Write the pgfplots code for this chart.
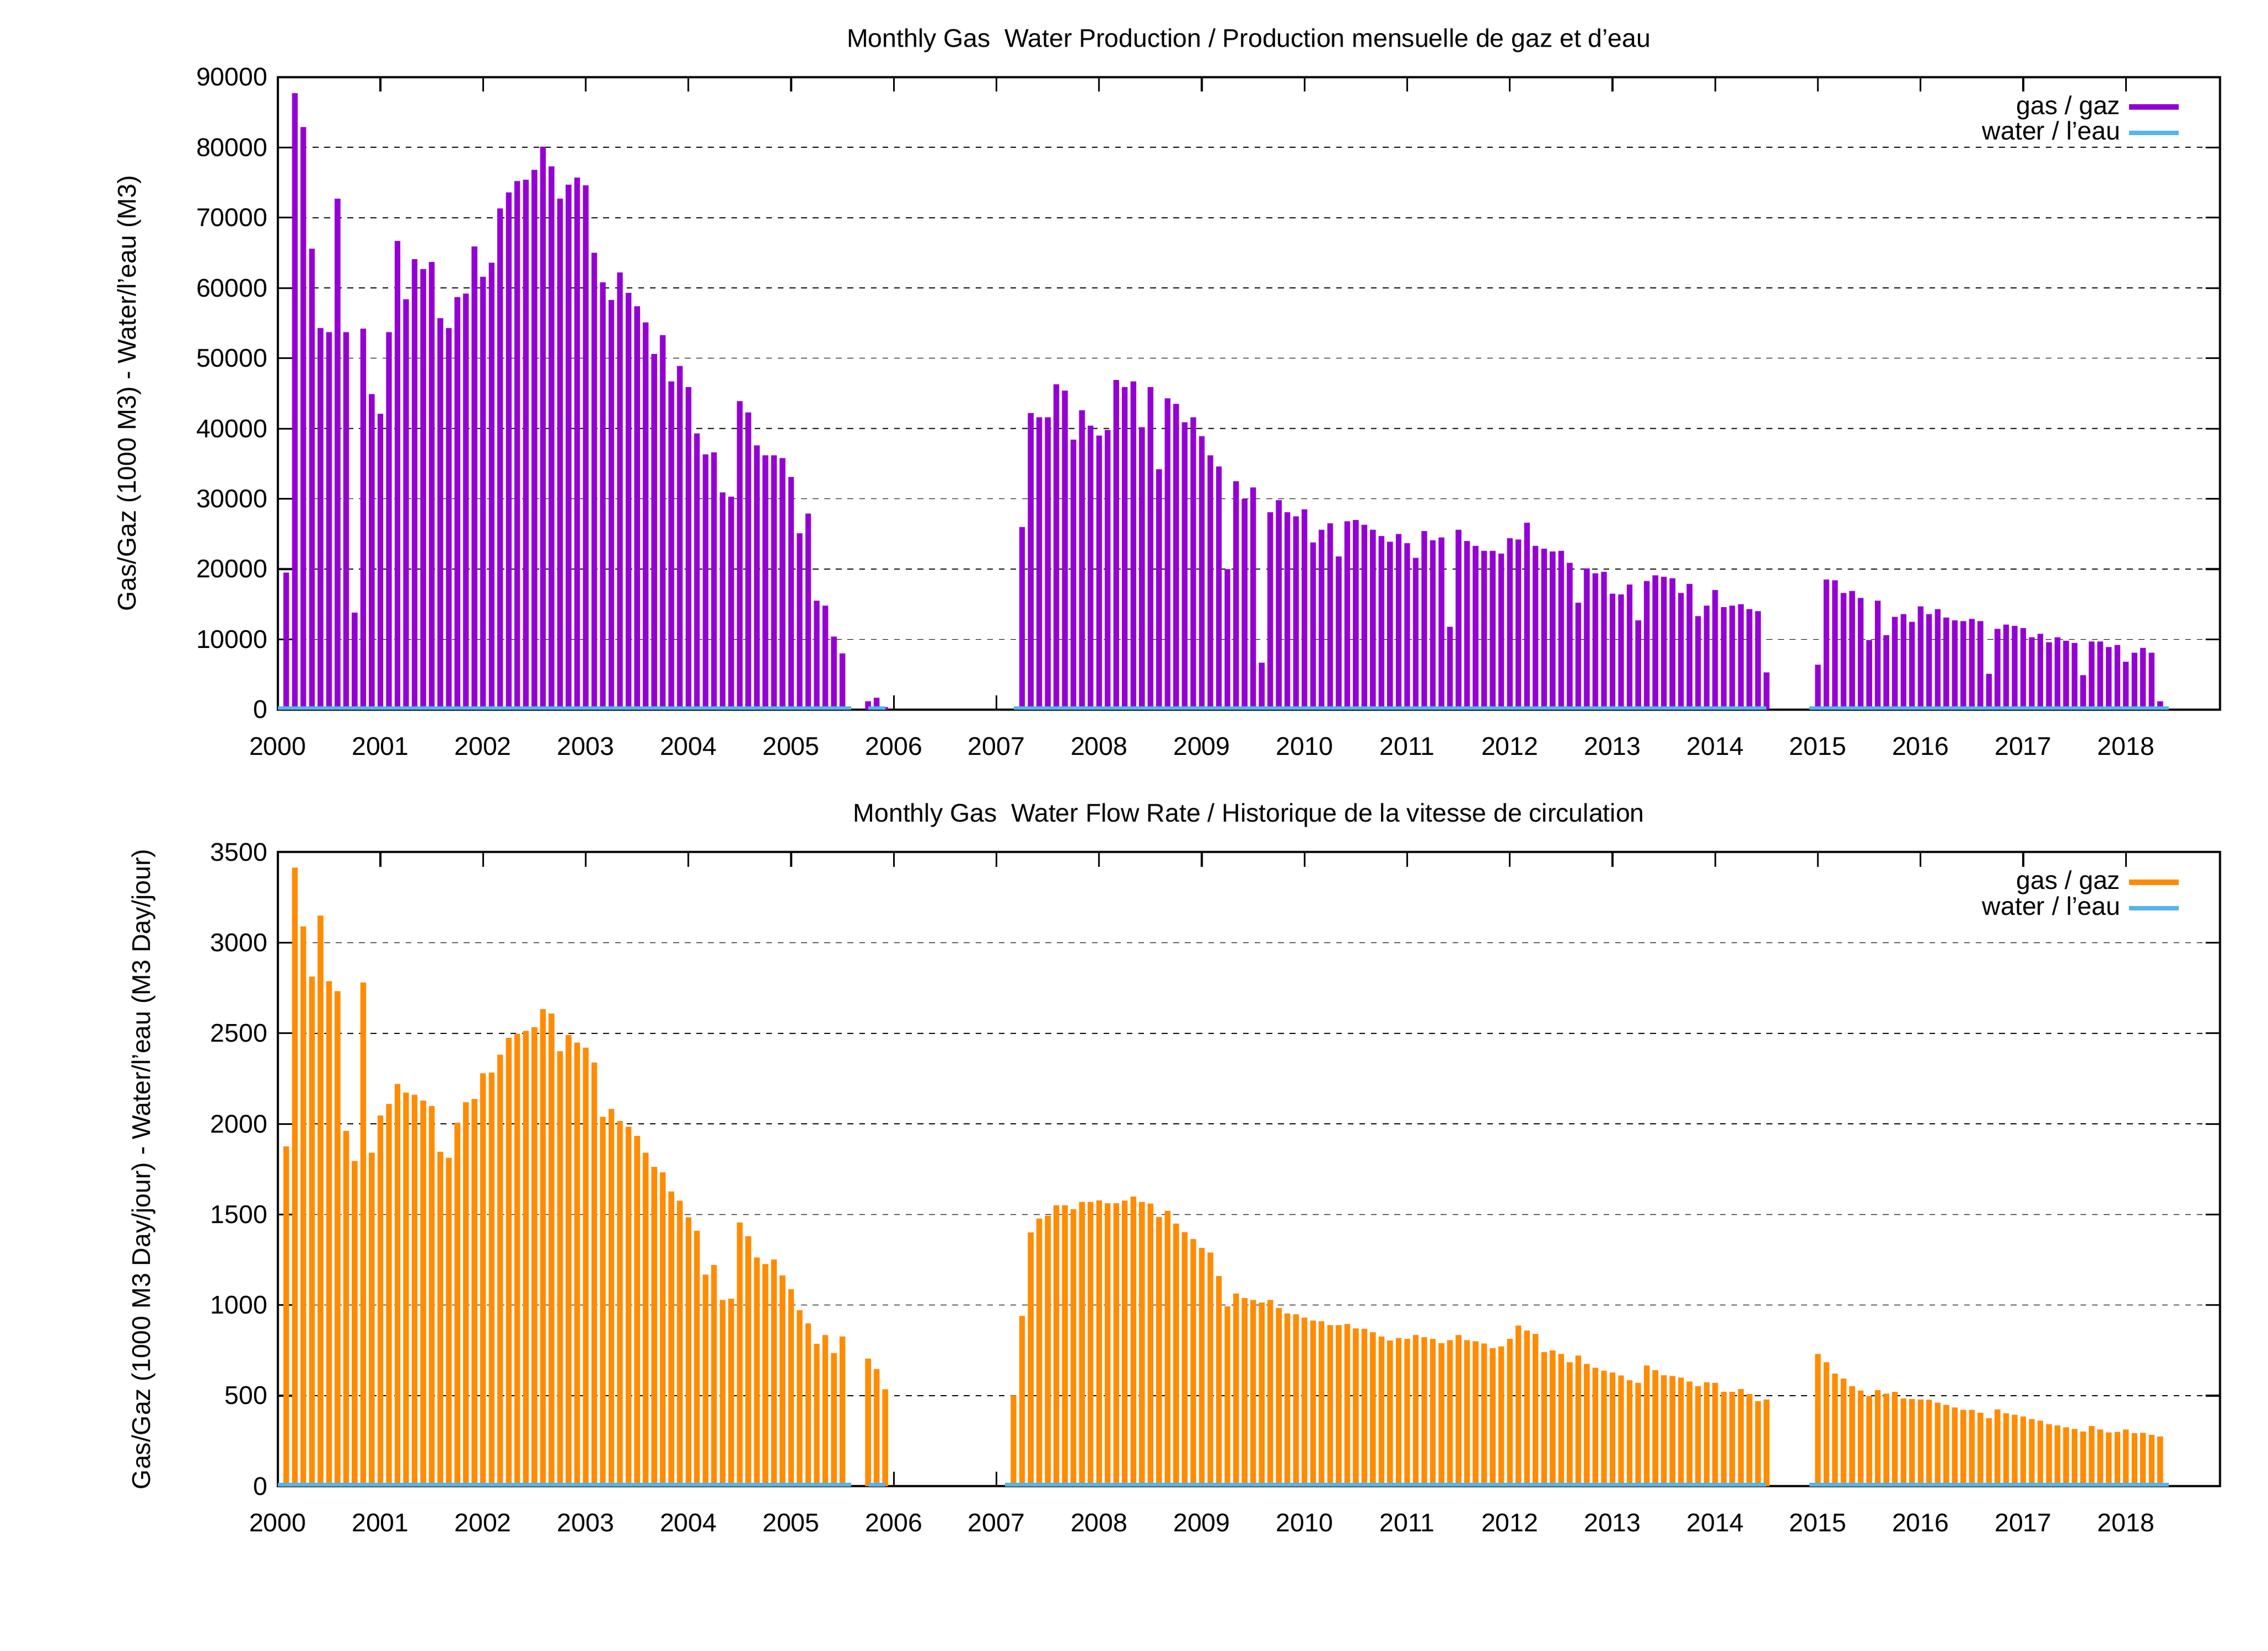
\documentclass[border=0pt]{standalone}
\usepackage{pgfplots}
\pgfplotsset{compat=1.18}
\usepackage{pgfplotstable}
\usepackage{fontspec}
\setmainfont{Liberation Sans}
\definecolor{gaspur}{RGB}{148,0,211}
\definecolor{gasor}{RGB}{255,140,0}
\definecolor{wat}{RGB}{86,180,233}
\pgfplotstableread{
i v
1 19500
2 87700
3 82900
4 65600
5 54300
6 53700
7 72700
8 53700
9 13800
10 54200
11 44900
12 42100
13 53700
14 66700
15 58400
16 64100
17 62700
18 63700
19 55700
20 54300
21 58700
22 59200
23 65900
24 61600
25 63600
26 71300
27 73600
28 75200
29 75400
30 76800
31 80100
32 77300
33 72700
34 74700
35 75700
36 74600
37 65000
38 60800
39 58300
40 62200
41 59300
42 57400
43 55100
44 50600
45 53300
46 46700
47 48900
48 45900
49 39300
50 36300
51 36600
52 30900
53 30300
54 43900
55 42300
56 37600
57 36200
58 36200
59 35800
60 33100
61 25100
62 27900
63 15500
64 14800
65 10400
66 8000
69 1200
70 1700
71 350
87 26000
88 42200
89 41600
90 41600
91 46300
92 45400
93 38400
94 42600
95 40400
96 39000
97 39800
98 46900
99 45900
100 46700
101 40200
102 45900
103 34200
104 44300
105 43500
106 40900
107 41600
108 38900
109 36200
110 34600
111 20000
112 32500
113 30000
114 31600
115 6700
116 28100
117 29800
118 28100
119 27500
120 28500
121 23800
122 25600
123 26500
124 21800
125 26800
126 27000
127 26300
128 25600
129 24700
130 23900
131 25000
132 23700
133 21600
134 25400
135 24100
136 24500
137 11800
138 25600
139 24000
140 23300
141 22600
142 22600
143 22200
144 24400
145 24200
146 26600
147 23300
148 22900
149 22500
150 22600
151 20900
152 15200
153 20100
154 19400
155 19600
156 16500
157 16400
158 17800
159 12700
160 18300
161 19100
162 18900
163 18700
164 16600
165 17900
166 13300
167 14800
168 17000
169 14600
170 14800
171 15000
172 14300
173 14000
174 5300
180 6400
181 18500
182 18400
183 16600
184 16900
185 15900
186 9900
187 15500
188 10600
189 13200
190 13600
191 12500
192 14700
193 13600
194 14300
195 13100
196 12700
197 12600
198 12900
199 12600
200 5100
201 11500
202 12100
203 11900
204 11600
205 10300
206 10800
207 9600
208 10300
209 9800
210 9500
211 4900
212 9700
213 9700
214 8900
215 9200
216 6800
217 8100
218 8800
219 8100
220 1200
}\gasprod
\pgfplotstableread{
i v
1 1876
2 3415
3 3090
4 2813
5 3150
6 2788
7 2733
8 1961
9 1795
10 2781
11 1841
12 2046
13 2110
14 2221
15 2173
16 2161
17 2129
18 2099
19 1846
20 1813
21 2007
22 2120
23 2138
24 2279
25 2283
26 2382
27 2475
28 2498
29 2514
30 2534
31 2633
32 2610
33 2401
34 2491
35 2449
36 2421
37 2339
38 2039
39 2083
40 2016
41 1984
42 1933
43 1841
44 1763
45 1733
46 1627
47 1576
48 1484
49 1410
50 1168
51 1221
52 1028
53 1035
54 1456
55 1380
56 1263
57 1226
58 1251
59 1164
60 1088
61 972
62 899
63 786
64 834
65 735
66 827
69 705
70 647
71 535
86 502
87 940
88 1401
89 1477
90 1493
91 1551
92 1551
93 1530
94 1569
95 1569
96 1578
97 1562
98 1562
99 1576
100 1599
101 1569
102 1560
103 1486
104 1521
105 1449
106 1403
107 1364
108 1316
109 1290
110 1161
111 993
112 1064
113 1039
114 1028
115 1014
116 1028
117 984
118 954
119 949
120 931
121 915
122 910
123 889
124 889
125 896
126 871
127 869
128 850
129 827
130 804
131 818
132 813
133 834
134 823
135 813
136 790
137 806
138 834
139 806
140 800
141 788
142 763
143 772
144 813
145 887
146 859
147 841
148 740
149 749
150 730
151 684
152 721
153 675
154 654
155 638
156 627
157 611
158 585
159 571
160 666
161 641
162 613
163 608
164 599
165 578
166 553
167 574
168 571
169 521
170 521
171 537
172 509
173 470
174 479
180 730
181 684
182 622
183 594
184 553
185 528
186 498
187 530
188 511
189 521
190 484
191 481
192 479
193 477
194 461
195 449
196 435
197 422
198 422
199 406
200 376
201 424
202 403
203 394
204 385
205 371
206 362
207 343
208 336
209 325
210 316
211 302
212 332
213 313
214 297
215 300
216 313
217 293
218 295
219 283
220 274
}\gasrate
\pgfplotsset{
  base/.style={
    scale only axis, width=668pt, xmin=0, xmax=227,
    xtick={0,12,...,216},
    xticklabels={2000,2001,2002,2003,2004,2005,2006,2007,2008,2009,2010,2011,2012,2013,2014,2015,2016,2017,2018},
    tick align=inside, major tick length=5pt,
    ymajorgrids, grid style={black, dashed, line width=0.3pt, dash pattern=on 2pt off 2pt},
    axis line style={line width=0.8pt},
    every tick/.style={black, line width=0.6pt},
    tick label style={font=\fontsize{8.8}{10}\selectfont},
    xticklabel style={yshift=-6pt},
    label style={font=\fontsize{8.8}{10}\selectfont},
    title style={font=\fontsize{8.8}{10}\selectfont, yshift=-1pt},
    /pgf/number format/assume math mode=true,
    /pgf/number format/1000 sep={},
    scaled y ticks=false,
    unbounded coords=jump,
    legend style={draw=none, fill=none, at={(0.985,0.99)}, anchor=north east,
      font=\fontsize{8.8}{10}\selectfont, row sep=-3pt},
    legend cell align=right, legend plot pos=right,
  }
}
\begin{document}
\begin{tikzpicture}
\path[use as bounding box] (0,0) rectangle (780pt,567.5pt);
\begin{axis}[base, at={(95.5pt,323.5pt)}, anchor=south west, height=217.5pt,
  ymin=0, ymax=90000, ytick={0,10000,...,90000},
  title={Monthly Gas\ \ Water Production / Production mensuelle de gaz et d’eau},
  ylabel={Gas/Gaz (1000 M3) - Water/l’eau (M3)}, ylabel style={yshift=12pt}]
\addlegendimage{gaspur, line width=2pt}
\addlegendentry{gas / gaz}
\addlegendimage{wat, line width=1.5pt}
\addlegendentry{water / l’eau}
\addplot[ybar, bar width=0.67, bar shift=0pt, fill=gaspur, draw=none, forget plot] table[x=i,y=v] {\gasprod};
\addplot[wat, line width=1.5pt, forget plot] coordinates {(0,150) (67,150) (68,nan) (69,150) (71,150) (72,nan) (86,150) (174,150) (175,nan) (179,150) (221,150)};
\end{axis}
\begin{axis}[base, at={(95.5pt,56.5pt)}, anchor=south west, height=218pt,
  ymin=0, ymax=3500, ytick={0,500,...,3500},
  title={Monthly Gas\ \ Water Flow Rate / Historique de la vitesse de circulation},
  ylabel={Gas/Gaz (1000 M3 Day/jour) - Water/l’eau (M3 Day/jour)}, ylabel style={yshift=12pt}]
\addlegendimage{gasor, line width=2pt}
\addlegendentry{gas / gaz}
\addlegendimage{wat, line width=1.5pt}
\addlegendentry{water / l’eau}
\addplot[ybar, bar width=0.67, bar shift=0pt, fill=gasor, draw=none, forget plot] table[x=i,y=v] {\gasrate};
\addplot[wat, line width=1.5pt, forget plot] coordinates {(0,6) (67,6) (68,nan) (69,6) (71,6) (72,nan) (85,6) (174,6) (175,nan) (179,6) (221,6)};
\end{axis}
\end{tikzpicture}
\end{document}
